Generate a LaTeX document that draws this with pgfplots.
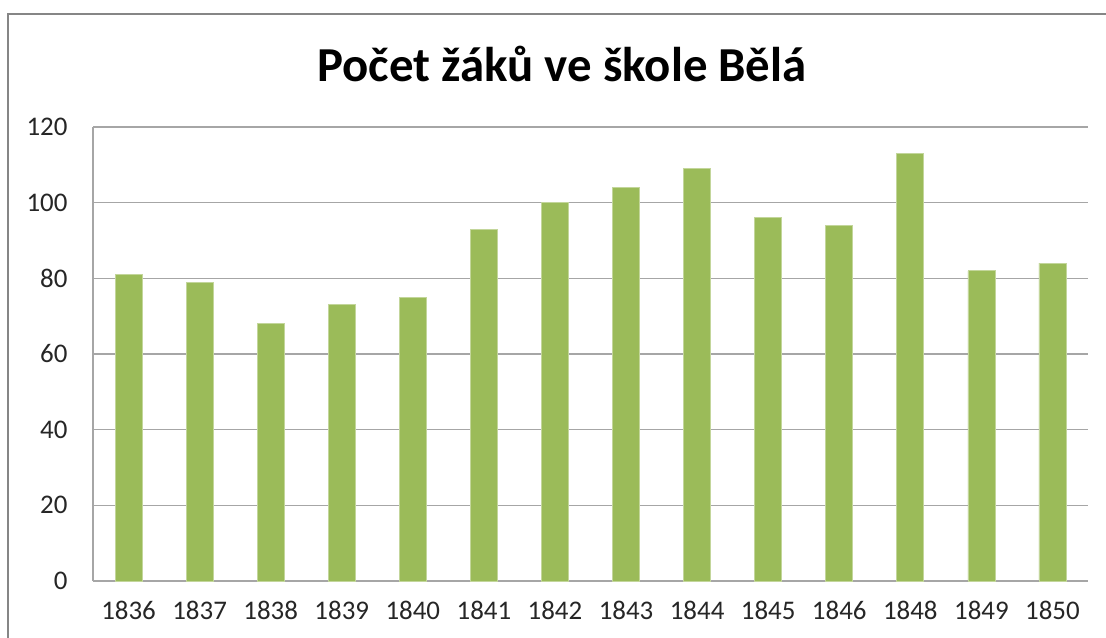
\documentclass[border=0pt]{standalone}
\usepackage{fontspec}
\setmainfont{Carlito}
\usepackage{pgfplots}
\pgfplotsset{compat=1.18}
\definecolor{bargreen}{HTML}{9BBB59}
\definecolor{framegray}{HTML}{868686}
\definecolor{gridgray}{HTML}{A6A6A6}
\begin{document}
\begin{tikzpicture}
\useasboundingbox (0bp,0bp) rectangle (1106bp,638bp);
\clip (0bp,0bp) rectangle (1106bp,638bp);
\fill[white] (0bp,0bp) rectangle (1106bp,638bp);
\draw[framegray, line width=2.2bp] (8bp,-10bp) -- (8bp,624bp) -- (1120bp,624bp);
\node[font=\bfseries\fontsize{49}{58}\selectfont, anchor=center] at (562bp,574bp) {Počet žáků ve škole Bělá};
\begin{axis}[
  at={(93bp,57bp)}, anchor=south west,
  scale only axis, width=995bp, height=454bp,
  xmin=-0.5, xmax=13.5, ymin=0, ymax=120,
  ytick={0,20,...,120},
  xtick={0,...,13},
  xticklabels={1836,1837,1838,1839,1840,1841,1842,1843,1844,1845,1846,1848,1849,1850},
  tick style={draw=none},
  ymajorgrids, grid style={gridgray, line width=1.3bp},
  axis x line*=bottom, axis y line*=left,
  axis line style={gridgray, line width=1.3bp, -},
  tick label style={font=\fontsize{27}{32}\selectfont, text=black!85},
  /pgf/number format/assume math mode=true,
  yticklabel style={xshift=-22bp},
  xticklabel style={yshift=-17bp},
  clip=false,
]
\addplot[ybar, bar width=27bp, fill=bargreen, draw=bargreen!60!white, line width=0.8bp] coordinates {
(0,81) (1,79) (2,68) (3,73) (4,75) (5,93) (6,100) (7,104) (8,109) (9,96) (10,94) (11,113) (12,82) (13,84)
};
\end{axis}
\end{tikzpicture}
\end{document}
